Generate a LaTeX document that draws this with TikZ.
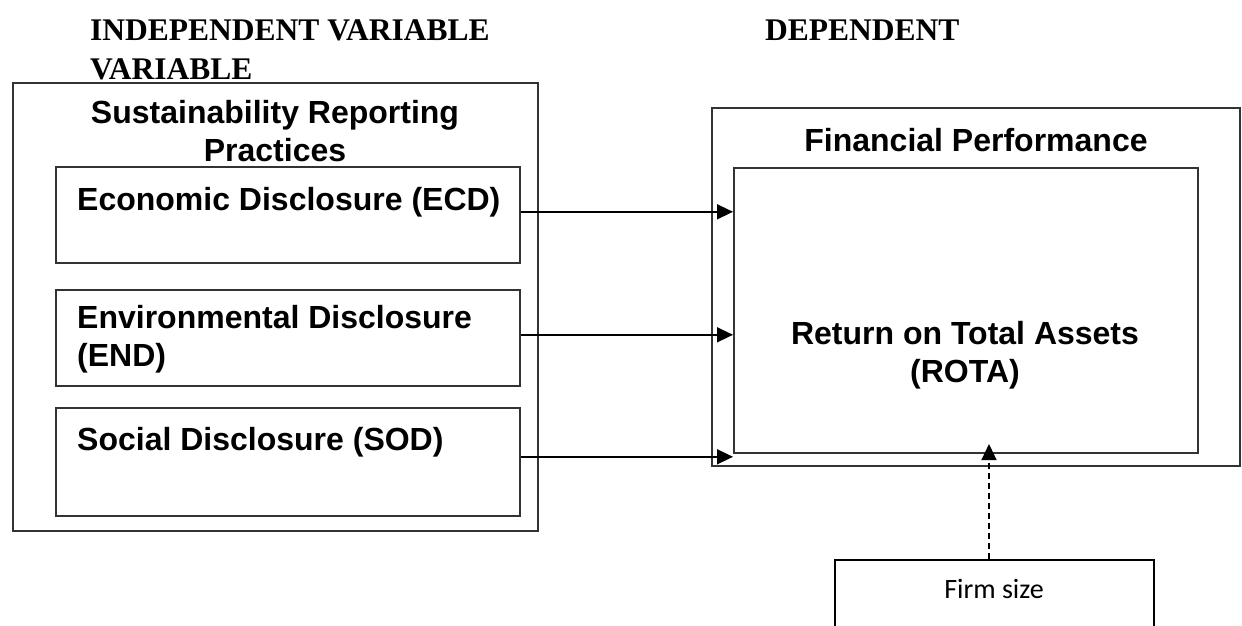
\documentclass[tikz,border=0pt]{standalone}
\usepackage{fontspec}
\setmainfont{Liberation Serif}
\newfontfamily\arialf{Liberation Sans}
\newfontfamily\calibf{Carlito}
\usetikzlibrary{arrows.meta,calc}
\begin{document}
\begin{tikzpicture}[x=1pt,y=-1pt,
  box/.style={draw=black!80, line width=1.6pt, rectangle, inner sep=0pt, anchor=north west},
  firmbox/.style={draw=black, line width=2.4pt, rectangle, inner sep=0pt, anchor=north west},
  txt/.style={inner sep=0pt, font={\arialf\bfseries\fontsize{32pt}{38pt}\selectfont}},
  head/.style={inner sep=0pt, font={\bfseries\fontsize{31.5pt}{39pt}\selectfont}},
  arr/.style={draw=black, line width=1.5pt, -{Triangle[length=16pt,width=15pt]}},
  dasharr/.style={draw=black, line width=1.2pt, dash pattern=on 6pt off 4pt, -{Triangle[length=16pt,width=15pt]}}
]
\useasboundingbox (0,0) rectangle (1242,625);

% headings
\node[head, anchor=north west, align=left] (indep) at (90,19) {INDEPENDENT VARIABLE\\VARIABLE};
\node[head, anchor=base west] (dep) at (765,40) {DEPENDENT};

% left group
\node[box, minimum width=525pt, minimum height=448pt] (outerL) at (12,82) {};
\node[txt, anchor=north, align=center] (sust) at (275,100.5) {Sustainability Reporting\\Practices};
\node[box, minimum width=464pt, minimum height=96pt] (ecd) at (55,166) {};
\node[txt, anchor=base west] (ecdt) at (77,210) {Economic Disclosure (ECD)};
\node[box, minimum width=464pt, minimum height=96pt] (endb) at (55,289) {};
\node[txt, anchor=north west, align=left] (endt) at (77,305) {Environmental Disclosure\\(END)};
\node[box, minimum width=464pt, minimum height=108pt] (sod) at (55,407) {};
\node[txt, anchor=base west] (sodt) at (77,450) {Social Disclosure (SOD)};

% right group
\node[box, minimum width=528pt, minimum height=358pt] (outerR) at (711,107) {};
\node[txt, anchor=base] (fp) at (976,151) {Financial Performance};
\node[box, minimum width=464pt, minimum height=285pt] (rota) at (733,167) {};
\node[txt, anchor=north, align=center] (rotat) at (965,321) {Return on Total Assets\\(ROTA)};

% firm size
\node[firmbox, minimum width=319pt, minimum height=90pt] (firm) at (834,559) {};
\node[inner sep=0pt, anchor=base, font={\calibf\fontsize{28pt}{34pt}\selectfont}] (firmt) at (994,598) {Firm size};

% connectors
\draw[arr] ([yshift=3pt]ecd.east) -- ([yshift=3pt]ecd.east -| rota.west);
\draw[arr] ([yshift=3pt]endb.east) -- ([yshift=3pt]endb.east -| rota.west);
\draw[arr] ([yshift=5pt]sod.east) -- ([yshift=5pt]sod.east -| rota.west);
\coordinate (ftip) at (989,444);
\draw[dasharr] (firm.north -| ftip) -- (ftip);
\end{tikzpicture}
\end{document}
